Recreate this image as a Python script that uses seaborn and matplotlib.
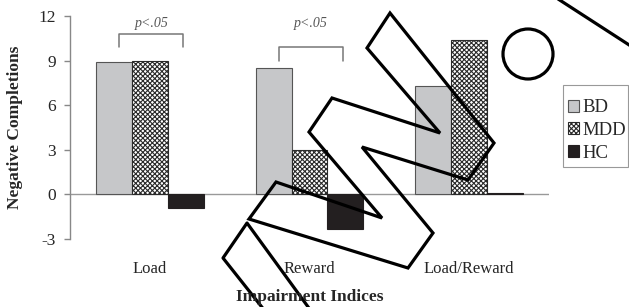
import numpy as np
import pandas as pd
import matplotlib
matplotlib.use('Agg')
import matplotlib.pyplot as plt
import seaborn as sns
from matplotlib.patches import Polygon, Circle, Rectangle
from matplotlib.lines import Line2D

# data
indices = ['Load', 'Reward', 'Load/Reward']
groups = ['BD', 'MDD', 'HC']
bd_values = [8.9, 8.5, 7.3]
mdd_values = [9.0, 3.0, 10.4]
hc_values = [-0.9, -2.3, 0.1]
yticks = [-3, 0, 3, 6, 9, 12]

# significance brackets: (category, bracket top)
sig_cats = [0, 1]
sig_tops = [10.8, 9.9]
sig_text = 'p<.05'

colors = {'BD': '#C6C7C9', 'MDD': '#FFFFFF', 'HC': '#231F20'}
edges = {'BD': '#555555', 'MDD': '#2A2A2A', 'HC': '#231F20'}

df = pd.DataFrame({
    'index': indices * 3,
    'group': ['BD'] * 3 + ['MDD'] * 3 + ['HC'] * 3,
    'value': bd_values + mdd_values + hc_values,
})

sns.set_style('white')
plt.rcParams['font.family'] = ['Liberation Serif', 'DejaVu Serif']
plt.rcParams['axes.unicode_minus'] = False
plt.rcParams['hatch.linewidth'] = 0.8

W, H = 629, 307
fig = plt.figure(figsize=(W / 100, H / 100), dpi=100)
ax = fig.add_axes([70 / W, 1 - 239 / H, 479 / W, 223 / H])

sns.barplot(data=df, x='index', y='value', hue='group', hue_order=groups,
            palette=colors, saturation=1, width=0.675, gap=0, linewidth=0.8,
            legend=False, ax=ax)

for grp, cont in zip(groups, ax.containers):
    for p in cont.patches:
        p.set_edgecolor(edges[grp])
        if grp == 'MDD':
            p.set_hatch('xxxxxxx')

ax.set_xlim(-0.5, 2.5)
ax.set_ylim(-3, 12)
ax.set_yticks(yticks)
ax.set_xlabel('')
ax.set_ylabel('')
ax.axhline(0, color='#999999', lw=1, zorder=0.5)
for s in ['top', 'right', 'bottom']:
    ax.spines[s].set_visible(False)
ax.spines['left'].set_color('#888888')
ax.spines['left'].set_linewidth(1)
ax.tick_params(axis='y', left=True, length=4, width=1, color='#888888',
               labelsize=12.5, pad=6)
ax.tick_params(axis='x', bottom=False, labelsize=12, pad=12)

for c, top in zip(sig_cats, sig_tops):
    ax.plot([c - 0.19, c - 0.19, c + 0.21, c + 0.21],
            [top - 0.9, top, top, top - 0.9], color='#777777', lw=1.1,
            clip_on=False)
    ax.text(c + 0.01, 11.5, sig_text, ha='center', va='center',
            fontsize=10, style='italic', color='#555555')

fig.text(15 / W, 1 - 127 / H, 'Negative Completions', rotation=90,
         ha='center', va='center', fontsize=12.5, fontweight='bold')
fig.text(310 / W, 1 - 297 / H, 'Impairment Indices', ha='center',
         va='center', fontsize=12.5, fontweight='bold')

handles = [cont.patches[0] for cont in ax.containers]
leg = fig.legend(handles, groups, loc='center left',
                 bbox_to_anchor=(568 / W, 1 - 130.5 / H),
                 bbox_transform=fig.transFigure, fontsize=13.5,
                 frameon=False, borderpad=0, handlelength=0.6,
                 handleheight=0.6, handletextpad=0.15, labelspacing=0.31,
                 borderaxespad=0)
fig.add_artist(Rectangle((563 / 100, (H - 167) / 100), 65 / 100, 82 / 100,
                         fill=False, ec='#999999', lw=0.8,
                         transform=fig.dpi_scale_trans))

# overlaid outline drawing (pixel positions, top-left origin)
def px(pts):
    return [(x / 100, (H - y) / 100) for x, y in pts]

zigzag = [(390, 13), (494, 143), (468, 180), (362, 147), (433, 233),
          (408, 268), (249, 219), (276, 182), (382, 218), (309, 132),
          (332, 98), (440, 133), (367, 48)]
strip = [(330, 337), (247, 223), (223, 258), (280, 330)]
corner = [(555, -3), (640, 52)]

fig.add_artist(Polygon(px(zigzag), closed=True, fill=False, ec='black',
                       lw=2.3, transform=fig.dpi_scale_trans, joinstyle='miter'))
xs, ys = zip(*px(strip))
fig.add_artist(Line2D(xs, ys, color='black', lw=2.3,
                      transform=fig.dpi_scale_trans))
xs, ys = zip(*px(corner))
fig.add_artist(Line2D(xs, ys, color='black', lw=2.3,
                      transform=fig.dpi_scale_trans))
fig.add_artist(Circle((528 / 100, (H - 54) / 100), 0.25, fill=False,
                      ec='black', lw=2.3, transform=fig.dpi_scale_trans))

fig.savefig('out.png', dpi=100)
